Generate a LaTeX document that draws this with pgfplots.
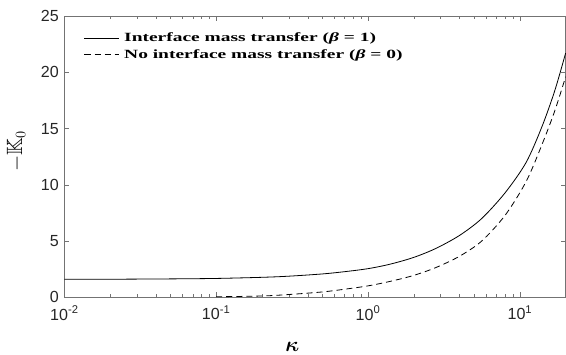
\documentclass[border=0pt]{standalone}
\usepackage{amsmath,amssymb,bm}
\usepackage{pgfplots}
\pgfplotsset{compat=1.18}
\usepackage{fontspec}
\newfontfamily\tickfont{Liberation Sans}
\newfontfamily\legfont[FakeStretch=1.55]{Liberation Serif}
\begin{document}
\begin{tikzpicture}
\begin{axis}[
  scale only axis,
  width=499pt, height=280pt,
  xmode=log,
  xmin=0.01, xmax=20,
  ymin=0, ymax=25,
  clip=false,
  ytick={0,5,10,15,20,25},
  yticklabels={\tickfont 0,\tickfont 5,\tickfont 10,\tickfont 15,\tickfont 20,\tickfont 25},
  xtick={0.01,0.1,1,10},
  xticklabels={\tickfont 10\textsuperscript{-2},\tickfont 10\textsuperscript{-1},\tickfont 10\textsuperscript{0},\tickfont 10\textsuperscript{1}},
  axis line style={draw=black!55, line width=0.8pt},
  tick style={black!55},
  tick align=inside,
  major tick length=5pt,
  minor tick length=3pt,
  tick label style={font=\tickfont\fontsize{16}{16}\selectfont, text=black!85},
  xticklabel style={yshift=-5pt},
  yticklabel style={xshift=-2pt},
  xlabel={$\bm{\kappa}$},
  ylabel={$-\mathbb{K}_0$},
  xlabel style={font=\fontsize{20}{20}\selectfont, at={(axis description cs:0.455,-0.175)}, anchor=center},
  ylabel style={font=\fontsize{22}{22}\selectfont, at={(axis description cs:-0.096,0.52)}, anchor=center, rotate=0, inner sep=7pt},
  legend style={draw=none, fill=none, at={(0.033,0.955)}, anchor=north west,
    font=\legfont\bfseries\fontsize{12.5}{17}\selectfont, row sep=2pt,
    nodes={inner xsep=5pt}},
  legend cell align=left,
  legend image code/.code={\draw[#1] (0cm,0cm) -- (1.2cm,0cm);},
]
\path (rel axis cs:0,1) ++(0pt,16pt);
\addplot[black, line width=0.8pt, smooth, tension=0.5] coordinates {
(0.01,1.6) (0.02,1.61) (0.05,1.64) (0.1,1.68) (0.2,1.78) (0.3,1.88)
(0.5,2.08) (0.7,2.28) (1,2.55) (1.4,2.95) (2,3.55) (2.8,4.35) (4,5.5)
(5.6,7.0) (8,9.3) (11,12.0) (14,15.2) (17,18.4) (20,21.7)
};
\addlegendentry{Interface mass transfer (\textit{β} = 1)}
\addplot[black, line width=0.8pt, dash pattern=on 6pt off 4pt, smooth, tension=0.5] coordinates {
(0.1,0.05) (0.2,0.12) (0.3,0.25) (0.5,0.48) (0.7,0.72) (1,1.02) (1.4,1.42)
(2,1.95) (2.8,2.65) (4,3.65) (5.6,5.0) (8,7.3) (11,10.3) (14,13.6)
(17,16.6) (20,19.6)
};
\addlegendentry{No interface mass transfer (\textit{β} = 0)}
\end{axis}
\end{tikzpicture}
\end{document}
